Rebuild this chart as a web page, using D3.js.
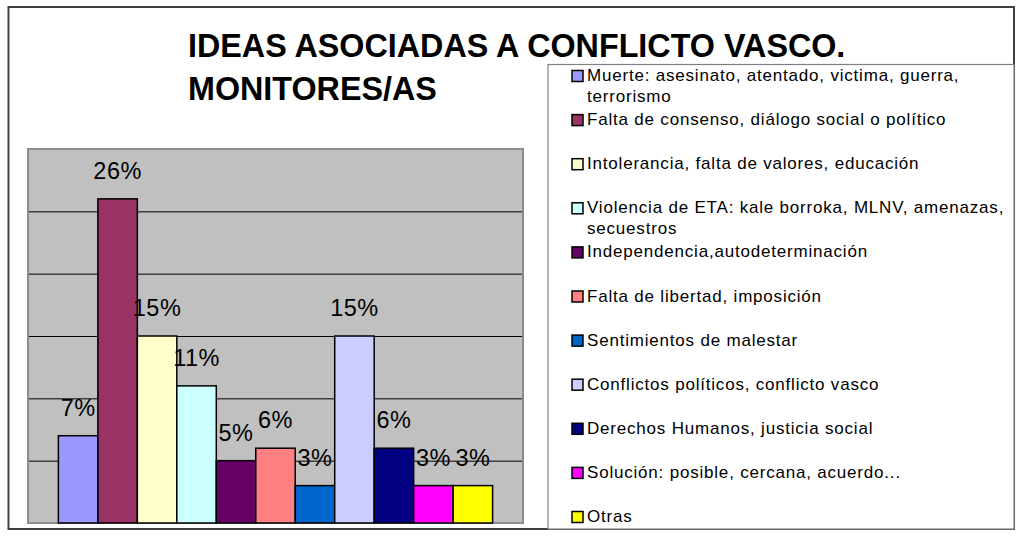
<!DOCTYPE html>
<html>
  <head>
    <meta charset="utf-8" />
    <title>Ideas asociadas a conflicto vasco</title>
    <style>
      html, body {
        margin: 0;
        padding: 0;
        background-color: white;
      }
      svg text {
        font-family: "Liberation Sans", Arial, sans-serif;
      }
    </style>
  </head>
  <body>
    <script src="https://d3js.org/d3.v7.min.js"></script>
    <script>
      // chart data
      var titleLines = ["IDEAS ASOCIADAS A CONFLICTO VASCO.", "MONITORES/AS"];

      var categories = [
        "Muerte: asesinato, atentado, victima, guerra,\nterrorismo",
        "Falta de consenso, diálogo social o político",
        "Intolerancia,  falta de valores, educación",
        "Violencia de ETA: kale borroka, MLNV, amenazas,\nsecuestros",
        "Independencia,autodeterminación",
        "Falta de libertad, imposición",
        "Sentimientos de malestar",
        "Conflictos políticos, conflicto vasco",
        "Derechos Humanos, justicia social",
        "Solución: posible, cercana, acuerdo...",
        "Otras"
      ];

      var values = [7, 26, 15, 11, 5, 6, 3, 15, 6, 3, 3];

      var colors = ["#9999FF", "#993366", "#FFFFCC", "#CCFFFF", "#660066", "#FF8080",
                    "#0066CC", "#CCCCFF", "#000080", "#FF00FF", "#FFFF00"];

      var yMax = 30;
      var gridTicks = [5, 10, 15, 20, 25];

      var w = 1020, h = 540;

      var plot = {left: 28, top: 149, right: 523, bottom: 523};

      var svg = d3.select("body")
        .append("svg")
        .attr("width", w)
        .attr("height", h);

      // outer frame
      svg.append("rect")
        .attr("x", 8.5)
        .attr("y", 7)
        .attr("width", 1005.5)
        .attr("height", 522)
        .attr("fill", "white")
        .attr("stroke", "#404040")
        .attr("stroke-width", 2);

      // title
      svg.append("text")
        .attr("x", 188)
        .attr("y", 57)
        .attr("font-size", "32.3px")
        .attr("font-weight", "bold")
        .selectAll("tspan")
        .data(titleLines)
        .enter()
        .append("tspan")
        .attr("x", 188)
        .attr("dy", function(d, i) { return i === 0 ? 0 : 42.5; })
        .text(function(d) { return d; });

      var x = d3.scaleBand()
        .domain(d3.range(categories.length))
        .range([plot.left, plot.right])
        .paddingInner(0)
        .paddingOuter(0.77);

      var y = d3.scaleLinear()
        .domain([0, yMax])
        .range([plot.bottom, plot.top]);

      // plot area
      svg.append("rect")
        .attr("x", plot.left)
        .attr("y", plot.top)
        .attr("width", plot.right - plot.left)
        .attr("height", plot.bottom - plot.top)
        .attr("fill", "#C0C0C0");

      var grid = d3.axisLeft(y)
        .tickValues(gridTicks)
        .tickSize(-(plot.right - plot.left))
        .tickFormat("");

      svg.append("g")
        .attr("class", "grid")
        .attr("transform", "translate(" + plot.left + ",0)")
        .call(grid)
        .call(function(g) { g.select(".domain").remove(); })
        .selectAll("line")
        .attr("stroke", "black")
        .attr("stroke-width", 1);

      svg.append("rect")
        .attr("x", plot.left)
        .attr("y", plot.top)
        .attr("width", plot.right - plot.left)
        .attr("height", plot.bottom - plot.top)
        .attr("fill", "none")
        .attr("stroke", "#8c8c8c")
        .attr("stroke-width", 2);

      // bars
      svg.selectAll(".bar")
        .data(values)
        .enter()
        .append("rect")
        .attr("class", "bar")
        .attr("x", function(d, i) { return x(i); })
        .attr("y", function(d) { return y(d); })
        .attr("width", x.bandwidth())
        .attr("height", function(d) { return y(0) - y(d); })
        .attr("fill", function(d, i) { return colors[i]; })
        .attr("stroke", "black")
        .attr("stroke-width", 1.5);

      svg.selectAll(".barNum")
        .data(values)
        .enter()
        .append("text")
        .attr("class", "barNum")
        .attr("x", function(d, i) { return x(i) + x.bandwidth() / 2; })
        .attr("y", function(d) { return y(d) - 20; })
        .attr("text-anchor", "middle")
        .attr("font-size", "23.5px")
        .attr("letter-spacing", "0.5px")
        .attr("fill", "black")
        .text(function(d) { return d + "%"; });

      // legend
      var legend = {left: 548, top: 64.5, right: 1014, bottom: 529};

      svg.append("rect")
        .attr("x", legend.left)
        .attr("y", legend.top)
        .attr("width", legend.right - legend.left)
        .attr("height", legend.bottom - legend.top)
        .attr("fill", "white")
        .attr("stroke", "#808080")
        .attr("stroke-width", 1.2);

      var rowStep = 44.1;
      var firstBase = 81;

      var items = svg.selectAll(".legendItem")
        .data(categories)
        .enter()
        .append("g")
        .attr("class", "legendItem")
        .attr("transform", function(d, i) { return "translate(0," + (firstBase + i * rowStep) + ")"; });

      items.append("rect")
        .attr("x", 572)
        .attr("y", -10.5)
        .attr("width", 11)
        .attr("height", 11)
        .attr("fill", function(d, i) { return colors[i]; })
        .attr("stroke", "black")
        .attr("stroke-width", 1.5);

      items.append("text")
        .attr("font-size", "17px")
        .attr("letter-spacing", "0.8px")
        .attr("fill", "black")
        .selectAll("tspan")
        .data(function(d) { return d.split("\n"); })
        .enter()
        .append("tspan")
        .attr("x", 587)
        .attr("y", function(d, i) { return i * 20.5; })
        .text(function(d) { return d; });
    </script>
  </body>
</html>
